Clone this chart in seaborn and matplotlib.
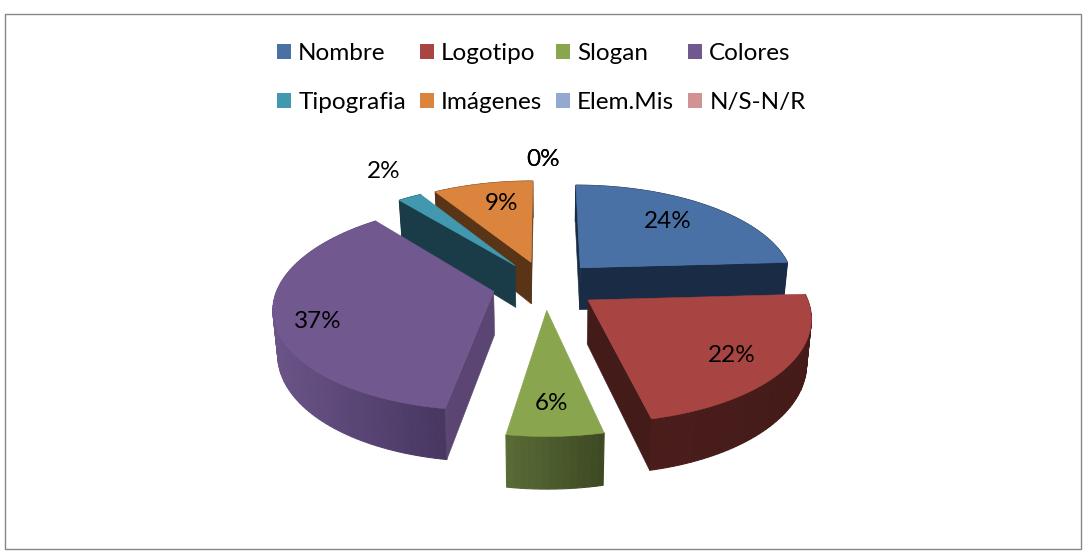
#!/usr/bin/env python3

import numpy as np
import matplotlib
matplotlib.use("Agg")
import matplotlib.pyplot as plt
from matplotlib.patches import Patch, Polygon, Rectangle
import seaborn as sns

categories = ["Nombre", "Logotipo", "Slogan", "Colores", "Tipografia", "Imágenes", "Elem.Mis", "N/S-N/R"]
values = [24.1, 22.4, 6.0, 36.6, 2.1, 8.8, 0.0, 0.0]

top_colors = ["#4a71a6", "#a84442", "#89a54e", "#71588f", "#4198af", "#db843d", "#93a9cf", "#d19392"]
# wall shade at the left and right end of each slice
wall_left = ["#1a2b45", "#4a1d1b", "#5a6b36", "#6a5488", "#1a3c48", "#5a3416", "#93a9cf", "#d19392"]
wall_right = ["#1a2b45", "#441b19", "#3d4922", "#473660", "#1a3c48", "#5a3416", "#93a9cf", "#d19392"]
radial_colors = ["#1a2b45", "#431c1a", "#4d5c2d", "#5b4673", "#1a3c48", "#5a3416", "#93a9cf", "#d19392"]
label_xy = [(668, 221), (732, 356), (551, 404), (318, 322), (384, 171), (501, 204), (543, 160), (543, 160)]

# view of the pie, in pixels
CX, CY = 545, 285
RX, RY = 215, 99.4
PERSP = 0.147
EXPLODE = 0.245
HEIGHT = 43
SHRINK = 0.018

sns.set_theme(style="white")
plt.rcParams["font.family"] = ["Lato", "DejaVu Sans"]


def project(u, v):
    s = 1 / (1 + PERSP * v)
    return CX + RX * u * s, CY - RY * v * s, s


def lower(x, y, s):
    return CX + (x - CX) * (1 - SHRINK), y + HEIGHT * s


def draw_radial(ax, p0, p1, color, zorder):
    # p0 to p1 runs clockwise seen from above, skip faces that look away
    x0, y0, s0 = p0
    x1, y1, s1 = p1
    pts = [(x0, y0), (x1, y1), lower(x1, y1, s1), lower(x0, y0, s0)]
    xs, ys = zip(*pts)
    area = 0.5 * sum(xs[i] * ys[(i + 1) % 4] - xs[(i + 1) % 4] * ys[i] for i in range(4))
    if area < 0:
        ax.add_patch(Polygon(pts, closed=True, facecolor=color, edgecolor=color, linewidth=0.4, zorder=zorder))


def mix(c0, c1, t):
    a = np.array(matplotlib.colors.to_rgb(c0))
    b = np.array(matplotlib.colors.to_rgb(c1))
    return tuple(a + (b - a) * t)


fig = plt.figure(figsize=(10.83, 5.51), dpi=100)
ax = fig.add_axes([0, 0, 1, 1])
ax.set_xlim(0, 1083)
ax.set_ylim(551, 0)
ax.axis("off")

ax.add_patch(Rectangle((4.5, 13.5), 1076, 535, facecolor="white", edgecolor="#868686", linewidth=1))

total = sum(values)
edges = np.cumsum([0] + values) / total * 2 * np.pi

# painter's order, back slices first
draw_order = [5, 4, 0, 3, 1, 2]
for z, i in enumerate(draw_order):
    a0, a1 = edges[i], edges[i + 1]
    mid = (a0 + a1) / 2
    ou, ov = EXPLODE * np.sin(mid), EXPLODE * np.cos(mid)
    angles = np.linspace(a0, a1, max(int((a1 - a0) * 40), 6))
    arc = [project(ou + np.sin(t), ov + np.cos(t)) for t in angles]
    apex = project(ou, ov)
    zo = 3 + z * 3

    # outer wall first, one strip per arc step so the shade can run left to right
    xmin = min(p[0] for p in arc)
    xmax = max(p[0] for p in arc)
    for p0, p1 in zip(arc[:-1], arc[1:]):
        t = ((p0[0] + p1[0]) / 2 - xmin) / (xmax - xmin)
        color = mix(wall_left[i], wall_right[i], t)
        pts = [(p0[0], p0[1]), (p1[0], p1[1]), lower(*p1), lower(*p0)]
        ax.add_patch(Polygon(pts, closed=True, facecolor=color, edgecolor=color, linewidth=0.8, zorder=zo))

    draw_radial(ax, apex, arc[0], radial_colors[i], zo + 1)
    draw_radial(ax, arc[-1], apex, radial_colors[i], zo + 1)

    top = [(apex[0], apex[1])] + [(p[0], p[1]) for p in arc]
    ax.add_patch(Polygon(top, closed=True, facecolor=top_colors[i], edgecolor=top_colors[i], linewidth=0.4, zorder=zo + 2))

for v, (x, y) in zip(values, label_xy):
    ax.text(x, y, f"{v:.0f}%", ha="center", va="center", fontsize=17.5, color="black", zorder=40)

# legend fills by column, so hand it the entries column by column to read row-wise
legend_order = [0, 4, 1, 5, 2, 6, 3, 7]
handles = [Patch(facecolor=top_colors[i], edgecolor="none") for i in legend_order]
labels = [categories[i] for i in legend_order]
ax.legend(handles, labels, ncol=4, loc="upper left", bbox_to_anchor=(277, 43), bbox_transform=ax.transData,
          frameon=False, fontsize=17.5, borderpad=0, borderaxespad=0, handlelength=0.57, handleheight=0.57,
          handletextpad=0.3, columnspacing=0.57, labelspacing=1.17, labelcolor="black")

fig.savefig("out.png", dpi=100)
